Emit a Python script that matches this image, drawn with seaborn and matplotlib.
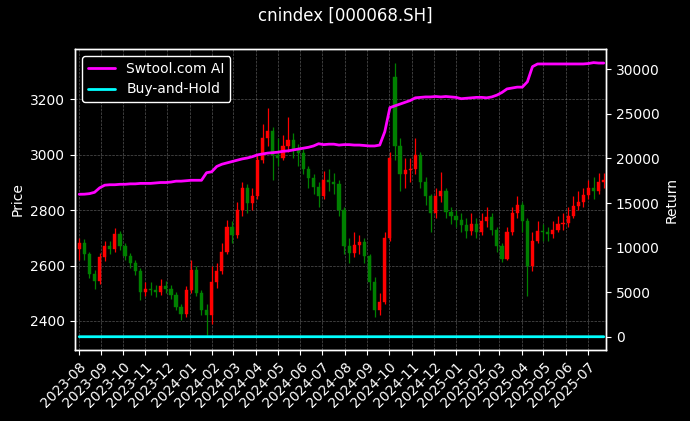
import numpy as np
import pandas as pd
import matplotlib
matplotlib.use("Agg")
import matplotlib.pyplot as plt
import matplotlib.dates as mdates
import seaborn as sns

# ---------------- data (weekly candles) ----------------
start_date = "2023-08-02"

price_open = [2660, 2680, 2640, 2570, 2545, 2630, 2670, 2660, 2715, 2670,
              2635, 2610, 2580, 2505, 2515, 2510, 2505, 2525, 2515, 2495,
              2450, 2425, 2510, 2585, 2500, 2440, 2420, 2540, 2580, 2650,
              2740, 2710, 2800, 2880, 2825, 2850, 2980, 3060, 3085, 3000,
              2990, 3030, 3055, 3020, 3005, 2950, 2915, 2885, 2850, 2910,
              2900, 2895, 2800, 2670, 2645, 2675, 2685, 2635, 2540, 2440,
              2470, 2700, 3280, 3030, 2930, 2945, 2950, 3000, 2900, 2850,
              2790, 2850, 2870, 2795, 2780, 2765, 2745, 2725, 2750, 2720,
              2760, 2775, 2730, 2670, 2625, 2720, 2790, 2820, 2760, 2600,
              2690, 2725, 2720, 2715, 2730, 2750, 2755, 2780, 2815, 2830,
              2855, 2880, 2870, 2900]

price_close = [2680, 2640, 2570, 2545, 2630, 2670, 2660, 2715, 2670, 2635,
               2610, 2580, 2505, 2515, 2510, 2505, 2525, 2515, 2495, 2450,
               2425, 2510, 2585, 2500, 2440, 2420, 2540, 2580, 2650, 2740,
               2710, 2800, 2880, 2825, 2850, 2980, 3060, 3085, 3000, 2990,
               3030, 3055, 3020, 3005, 2950, 2915, 2885, 2850, 2910, 2900,
               2895, 2800, 2670, 2645, 2675, 2685, 2635, 2540, 2440, 2470,
               2700, 2990, 3030, 2930, 2945, 2950, 3000, 2900, 2850, 2790,
               2850, 2870, 2795, 2780, 2765, 2745, 2725, 2750, 2720, 2760,
               2775, 2730, 2670, 2625, 2720, 2790, 2820, 2760, 2600, 2690,
               2725, 2720, 2715, 2730, 2750, 2755, 2780, 2815, 2830, 2855,
               2880, 2870, 2900, 2910]

price_high = [2700, 2695, 2650, 2585, 2645, 2690, 2690, 2735, 2725, 2680,
              2645, 2620, 2590, 2540, 2540, 2530, 2550, 2545, 2530, 2505,
              2460, 2525, 2620, 2600, 2510, 2460, 2600, 2610, 2680, 2765,
              2760, 2830, 2900, 2895, 2880, 3000, 3110, 3168, 3100, 3060,
              3070, 3135, 3080, 3040, 3020, 2960, 2930, 2900, 2940, 2950,
              2935, 2910, 2810, 2700, 2720, 2710, 2700, 2640, 2560, 2500,
              2720, 3010, 3330, 3060, 2990, 2990, 3060, 3010, 2920, 2860,
              2880, 2937, 2880, 2810, 2800, 2790, 2770, 2790, 2770, 2790,
              2810, 2790, 2740, 2680, 2740, 2810, 2850, 2830, 2770, 2720,
              2760, 2750, 2740, 2760, 2780, 2790, 2810, 2850, 2870, 2880,
              2910, 2920, 2935, 2935]

price_low = [2620, 2620, 2555, 2515, 2535, 2615, 2640, 2650, 2655, 2620,
             2590, 2565, 2475, 2490, 2495, 2485, 2495, 2500, 2480, 2440,
             2405, 2415, 2500, 2490, 2420, 2350, 2390, 2520, 2570, 2640,
             2680, 2700, 2780, 2790, 2800, 2840, 2970, 3030, 2910, 2960,
             2980, 3010, 2990, 2960, 2930, 2880, 2860, 2810, 2840, 2870,
             2860, 2780, 2640, 2610, 2630, 2640, 2610, 2510, 2414, 2420,
             2460, 2690, 2980, 2870, 2880, 2900, 2930, 2880, 2820, 2721,
             2770, 2830, 2770, 2750, 2740, 2720, 2700, 2710, 2700, 2710,
             2740, 2710, 2650, 2613, 2620, 2710, 2770, 2720, 2490, 2580,
             2680, 2690, 2690, 2700, 2720, 2730, 2740, 2770, 2800, 2810,
             2840, 2840, 2860, 2880]

ai_return = [15980, 15990, 16050, 16200, 16700, 17000, 17050, 17050, 17100, 17100,
             17150, 17150, 17200, 17200, 17200, 17250, 17300, 17300, 17350, 17450,
             17450, 17500, 17550, 17550, 17550, 18400, 18500, 19100, 19350, 19500,
             19650, 19800, 19950, 20050, 20200, 20400, 20500, 20600, 20650, 20700,
             20800, 20850, 20950, 21050, 21150, 21250, 21400, 21650, 21550, 21600,
             21600, 21500, 21550, 21550, 21500, 21500, 21450, 21400, 21400, 21500,
             23000, 25700, 25900, 26100, 26300, 26500, 26800, 26850, 26900, 26900,
             26950, 26900, 26950, 26900, 26850, 26700, 26750, 26800, 26850, 26850,
             26800, 26900, 27100, 27400, 27800, 27900, 28000, 28000, 28600, 30300,
             30600, 30600, 30600, 30600, 30600, 30600, 30600, 30600, 30600, 30600,
             30650, 30750, 30700, 30700]

month_labels_fmt = "%Y-%m"
title = "cnindex [000068.SH]"

# ---------------- style ----------------
sns.set_theme(style="dark", rc={
    "figure.facecolor": "black",
    "axes.facecolor": "black",
    "axes.edgecolor": "white",
    "axes.linewidth": 1.0,
    "text.color": "white",
    "axes.labelcolor": "white",
    "xtick.color": "white",
    "ytick.color": "white",
    "xtick.bottom": True,
    "ytick.left": True,
    "ytick.right": False,
    "xtick.major.size": 3.5,
    "ytick.major.size": 3.5,
    "xtick.major.width": 0.8,
    "ytick.major.width": 0.8,
    "xtick.labelsize": 10,
    "ytick.labelsize": 10,
    "axes.labelsize": 10,
    "legend.fontsize": 10,
})
plt.rcParams["font.family"] = ["DejaVu Sans"]

dates = pd.date_range(start_date, periods=len(price_close), freq="7D")
df = pd.DataFrame({
    "date": dates, "open": price_open, "high": price_high,
    "low": price_low, "close": price_close, "ai": ai_return,
})
df["bh"] = df["close"] / df["close"].iloc[0] - 1.0

fig = plt.figure(figsize=(6.9, 4.21), dpi=100)
ax = fig.add_axes([0.1087, 0.1686, 0.7695, 0.715])

up = df["close"] >= df["open"]
colors = np.where(up, "#ff0000", "#008000")
body_bottom = np.minimum(df["open"], df["close"])
body_height = (df["close"] - df["open"]).abs().clip(lower=3)

ax.vlines(df["date"], df["low"], df["high"], colors=colors, linewidth=0.9, zorder=2)
ax.bar(df["date"], body_height, bottom=body_bottom, width=4.4,
       color=colors, edgecolor=colors, linewidth=0.3, zorder=3)

ax.set_ylim(2295, 3382)
ax.set_xlim(pd.Timestamp("2023-07-27 04:00"), pd.Timestamp("2025-07-26"))
ax.set_ylabel("Price")
ax.set_yticks([2400, 2600, 2800, 3000, 3200])
ax.xaxis.set_major_locator(mdates.MonthLocator())
ax.xaxis.set_major_formatter(mdates.DateFormatter(month_labels_fmt))
plt.setp(ax.get_xticklabels(), rotation=45, ha="right", rotation_mode="anchor")
ax.grid(True, color="#777777", linestyle="--", linewidth=0.5, alpha=0.7)
ax.set_xlabel("")

ax2 = ax.twinx()
sns.lineplot(data=df, x="date", y="ai", ax=ax2, color="#ff00ff",
             linewidth=2, label="Swtool.com AI")
sns.lineplot(data=df, x="date", y="bh", ax=ax2, color="#00ffff",
             linewidth=2, label="Buy-and-Hold")
ax2.set_ylim(-1492, 32277)
ax2.set_ylabel("Return")
ax2.set_xlabel("")
ax2.grid(False)
ax2.tick_params(axis="y", right=True, colors="white", length=3.5)
ax2.set_xlim(pd.Timestamp("2023-07-27 04:00"), pd.Timestamp("2025-07-26"))
for s in ax2.spines.values():
    s.set_color("white")

leg = ax2.legend(loc="upper left", facecolor="black", edgecolor="white",
                 labelcolor="white", framealpha=1.0)

fig.suptitle(title, color="white", fontsize=12, y=0.985)

fig.savefig("out.png", dpi=100, facecolor="black")
